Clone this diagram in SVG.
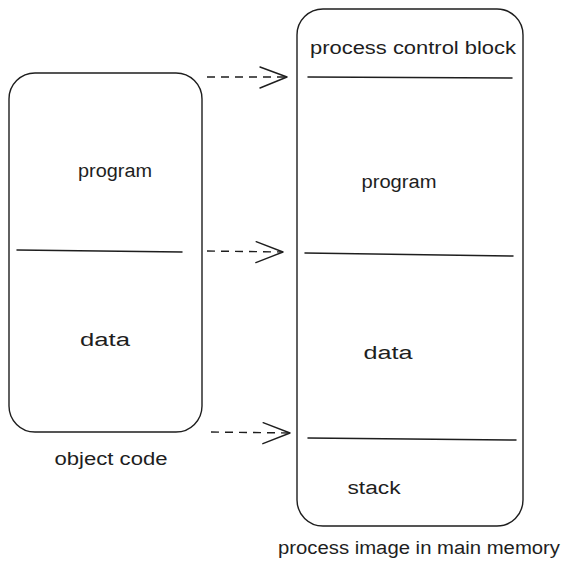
<svg xmlns="http://www.w3.org/2000/svg" width="571" height="571" viewBox="0 0 571 571">
<style>
.box{fill:none;stroke:#1e1e1e;stroke-width:1.4;stroke-linejoin:round}
.div{fill:none;stroke:#1e1e1e;stroke-width:1.5;stroke-linecap:round}
.con{fill:none;stroke:#1e1e1e;stroke-width:1.4;stroke-dasharray:8 6}
.t{font-family:"Liberation Sans",Arial,sans-serif;font-size:18px;fill:#1e1e1e;text-anchor:middle}
</style>
<defs>
<marker id="head" markerUnits="userSpaceOnUse" markerWidth="40" markerHeight="30" viewBox="-30 -15 34 30" refX="0" refY="0" orient="auto" overflow="visible">
<path d="M-27,-10 L0,0 L-27,11" fill="none" stroke="#1e1e1e" stroke-width="1.4" stroke-linecap="round" stroke-linejoin="round"/>
</marker>
</defs>
<rect width="571" height="571" fill="#ffffff"/>
<g id="object-code">
<rect class="box" x="9" y="73" width="193" height="359" rx="26" ry="26"/>
<line class="div" x1="17" y1="250" x2="182" y2="252"/>
<text class="t" x="115" y="177" textLength="74" lengthAdjust="spacingAndGlyphs">program</text>
<text class="t" x="105" y="346" textLength="50" lengthAdjust="spacingAndGlyphs">data</text>
<text class="t" x="111" y="465" textLength="113" lengthAdjust="spacingAndGlyphs">object code</text>
</g>
<g id="process-image">
<rect class="box" x="297" y="9" width="226" height="517" rx="26" ry="26"/>
<line class="div" x1="308" y1="77" x2="512" y2="78"/>
<line class="div" x1="305" y1="253" x2="513" y2="256"/>
<line class="div" x1="308" y1="438" x2="516" y2="440"/>
<text class="t" x="413" y="54" textLength="206" lengthAdjust="spacingAndGlyphs">process control block</text>
<text class="t" x="399" y="188" textLength="75" lengthAdjust="spacingAndGlyphs">program</text>
<text class="t" x="388" y="359" textLength="49" lengthAdjust="spacingAndGlyphs">data</text>
<text class="t" x="374" y="494" textLength="53" lengthAdjust="spacingAndGlyphs">stack</text>
<text class="t" x="419" y="554" textLength="282" lengthAdjust="spacingAndGlyphs">process image in main memory</text>
</g>
<g id="connectors">
<line class="con" x1="207" y1="77" x2="287" y2="77" marker-end="url(#head)"/>
<line class="con" x1="207" y1="251" x2="283" y2="252" marker-end="url(#head)"/>
<line class="con" x1="211" y1="432" x2="290" y2="433" marker-end="url(#head)"/>
</g>
</svg>
